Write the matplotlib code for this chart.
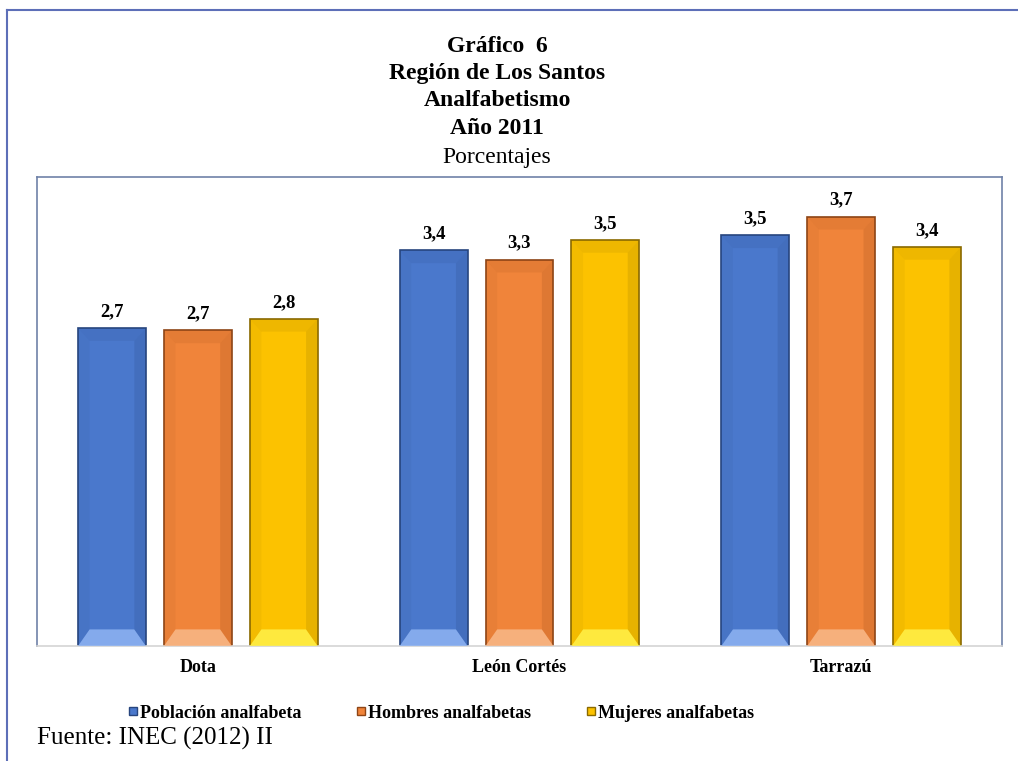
import numpy as np
import matplotlib.pyplot as plt
from matplotlib.patches import Polygon
from matplotlib.lines import Line2D

plt.rcParams['font.family'] = ['Liberation Serif', 'DejaVu Serif']

cantones = ["Dota", "León Cortés", "Tarrazú"]
series = ["Población analfabeta", "Hombres analfabetas", "Mujeres analfabetas"]
poblacion = [2.74, 3.41, 3.54]
hombres = [2.72, 3.33, 3.70]
mujeres = [2.82, 3.50, 3.44]

colores = ["#4A78CC", "#F0843A", "#FCC200"]
claros = ["#8FB4F2", "#F8B888", "#FFF04A"]
oscuros = ["#27457E", "#8E4516", "#8A6A00"]

fig = plt.figure(figsize=(10.18, 7.61), dpi=100)
ax = fig.add_axes([37/1018, 1-646/761, 965/1018, 469/761])

x = np.arange(len(cantones))
ancho = 0.211
paso = 0.267
datos = [poblacion, hombres, mujeres]

bx = 0.036   # bevel size in data units
by = 0.11
for i, vals in enumerate(datos):
    pos = x + (i - 1) * paso
    bars = ax.bar(pos, vals, ancho, color=colores[i], edgecolor=oscuros[i],
                  linewidth=1.2, zorder=2)
    for b, v in zip(bars, vals):
        x0, w, h = b.get_x(), b.get_width(), b.get_height()
        x1 = x0 + w
        # bottom light trapezoid
        ax.add_patch(Polygon([[x0, 0], [x1, 0], [x1 - bx, by * 1.3], [x0 + bx, by * 1.3]],
                             closed=True, facecolor=claros[i], edgecolor='none',
                             alpha=0.85, zorder=3))
        # top trapezoid
        ax.add_patch(Polygon([[x0, h], [x1, h], [x1 - bx, h - by], [x0 + bx, h - by]],
                             closed=True, facecolor=oscuros[i], edgecolor='none',
                             alpha=0.12, zorder=3))
        # side shading
        ax.add_patch(Polygon([[x0, 0], [x0 + bx, by * 1.3], [x0 + bx, h - by], [x0, h]],
                             closed=True, facecolor=oscuros[i], edgecolor='none',
                             alpha=0.08, zorder=3))
        ax.add_patch(Polygon([[x1, 0], [x1 - bx, by * 1.3], [x1 - bx, h - by], [x1, h]],
                             closed=True, facecolor=oscuros[i], edgecolor='none',
                             alpha=0.18, zorder=3))
        ax.text(b.get_x() + w / 2, h + 0.07, f"{v:.1f}".replace(".", ","),
                ha='center', va='bottom', fontsize=13.5, fontweight='bold', zorder=4)

ax.set_xlim(-0.5, 2.5)
ax.set_ylim(0, 4.043)
ax.set_yticks([])
ax.set_xticks(x)
ax.set_xticklabels(cantones, fontsize=13, fontweight='bold')
ax.tick_params(axis='x', length=0, pad=9)
for s in ['left', 'top', 'right']:
    ax.spines[s].set_color('#6F82A8')
    ax.spines[s].set_linewidth(1.2)
ax.spines['bottom'].set_color('#D4D4D4')
ax.spines['bottom'].set_linewidth(1.2)

# outer frame (left and top edges)
fig.add_artist(Line2D([7/1018, 7/1018], [0, 1-10/761], color='#5D6FB8', lw=1.5))
fig.add_artist(Line2D([7/1018, 1], [1-10/761, 1-10/761], color='#5D6FB8', lw=1.5))

cx = 497/1018
fig.text(cx, 1-46/761, "Gráfico  6", ha='center', va='center', fontsize=17, fontweight='bold')
fig.text(cx, 1-73/761, "Región de Los Santos", ha='center', va='center', fontsize=17, fontweight='bold')
fig.text(cx, 1-101/761, "Analfabetismo", ha='center', va='center', fontsize=17, fontweight='bold')
fig.text(cx, 1-128/761, "Año 2011", ha='center', va='center', fontsize=17, fontweight='bold')
fig.text(cx, 1-157/761, "Porcentajes", ha='center', va='center', fontsize=17)

handles = [Line2D([], [], marker='s', linestyle='none', markersize=6,
                  markerfacecolor=colores[i], markeredgecolor=oscuros[i]) for i in range(3)]
fig.legend(handles, series, loc='center', bbox_to_anchor=(441/1018, 1-713/761), ncol=3,
           frameon=False, prop={'size': 13, 'weight': 'bold'}, handlelength=0.6,
           handletextpad=0.1, columnspacing=3.0)

fig.text(37/1018, 1-738/761, "Fuente: INEC (2012) II", ha='left', va='center', fontsize=18)

fig.savefig("out.png", dpi=100)
